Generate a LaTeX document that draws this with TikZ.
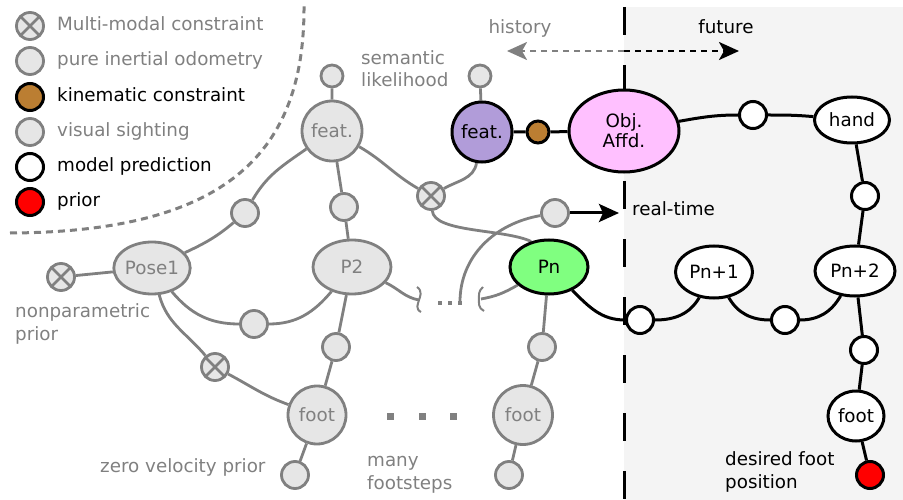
\documentclass[tikz,border=0pt]{standalone}
\usepackage{fontspec}
\setmainfont{DejaVu Sans}
\usetikzlibrary{shapes.geometric,arrows.meta}
\definecolor{lgray}{RGB}{128,128,128}
\definecolor{gfill}{RGB}{230,230,230}
\definecolor{futurebg}{RGB}{244,244,244}
\definecolor{kin}{RGB}{187,126,50}
\definecolor{featpurple}{RGB}{177,156,217}
\definecolor{objpink}{RGB}{255,192,255}
\definecolor{pngreen}{RGB}{128,255,128}
\pgfdeclarelayer{back}
\pgfdeclarelayer{edges}
\pgfsetlayers{back,edges,main}
\tikzset{
  gnode/.style={draw=lgray, fill=gfill, line width=2.8pt, text=lgray, inner sep=0pt},
  bnode/.style={draw=black, line width=3pt, inner sep=0pt},
  gdot/.style={gnode, circle, minimum size=27pt},
  sdot/.style={gnode, circle, minimum size=22pt},
  xdot/.style={gdot, path picture={\draw[lgray, line width=2.8pt]
      (path picture bounding box.north west) -- (path picture bounding box.south east)
      (path picture bounding box.north east) -- (path picture bounding box.south west);}},
  kdot/.style={bnode, circle, fill=kin, minimum size=27pt},
  wdot/.style={bnode, circle, fill=white, minimum size=27pt},
  rdot/.style={bnode, circle, fill=red, minimum size=27pt},
  sqdot/.style={rectangle, fill=lgray, inner sep=0pt, minimum size=7pt},
  tinydot/.style={rectangle, fill=lgray, inner sep=0pt, minimum size=3.5pt},
  lbl/.style={inner sep=0pt},
  gedge/.style={draw=lgray, line width=2.8pt},
  bedge/.style={draw=black, line width=3pt},
  tarrow/.style={line width=2.5pt, dash pattern=on 6pt off 5pt,
      -{Stealth[length=20pt,width=18pt,inset=5pt]}},
}
\begin{document}
\begin{tikzpicture}[x=1pt,y=1pt,font=\fontsize{18.3}{22.5}\selectfont]
\useasboundingbox (0,0) rectangle (903,-500);

% legend
\node[xdot] (lg1) at (30,-26) {};
\node[gdot] (lg2) at (30,-61) {};
\node[kdot] (lg3) at (30,-97) {};
\node[gdot] (lg4) at (30,-132) {};
\node[wdot] (lg5) at (30,-167) {};
\node[rdot] (lg6) at (30,-202) {};
\node[lbl, text=lgray, anchor=base west] (tl1) at (57,-31) {Multi-modal constraint};
\node[lbl, text=lgray, anchor=base west] (tl2) at (57,-66) {pure inertial odometry};
\node[lbl, anchor=base west] (tl3) at (57,-102) {kinematic constraint};
\node[lbl, text=lgray, anchor=base west] (tl4) at (57,-137) {visual sighting};
\node[lbl, anchor=base west] (tl5) at (57,-172) {model prediction};
\node[lbl, anchor=base west] (tl6) at (57,-207) {prior};

% past: estimated poses, features and feet
\node[xdot] (npx) at (61,-277) {};
\node[gnode, ellipse, minimum width=75pt, minimum height=52pt] (pose1) at (152,-268) {Pose1};
\node[gnode, ellipse, minimum width=78pt, minimum height=54pt] (p2) at (352,-267) {P2};
\node[gnode, circle, minimum size=60pt] (featg) at (332,-131) {feat.};
\node[sdot] (s1) at (332,-76) {};
\node[gdot] (c1) at (245,-213) {};
\node[gdot] (c2) at (344,-207) {};
\node[xdot] (x2) at (431,-196) {};
\node[gdot] (c4) at (254,-324) {};
\node[xdot] (x3) at (215,-367) {};
\node[gdot] (c5) at (336,-347) {};
\node[gnode, circle, minimum size=58pt] (foot1) at (317,-415) {foot};
\node[gdot] (c6) at (295,-475) {};
\node[bnode, circle, fill=featpurple, minimum size=60pt] (featp) at (482,-132) {feat.};
\node[sdot] (s2) at (480,-76) {};
\node[kdot, minimum size=22pt] (kin) at (538,-132) {};
\node[gdot] (c3) at (555,-213) {};
\node[bnode, ellipse, fill=pngreen, minimum width=78pt, minimum height=54pt] (pn) at (549,-267) {Pn};
\node[gdot] (c7) at (542,-347) {};
\node[gnode, circle, minimum size=59pt] (foot2) at (523,-415) {foot};
\node[gdot] (c8) at (509,-475) {};
\node[sqdot] (d1) at (390,-416) {};
\node[sqdot] (d2) at (422,-416) {};
\node[sqdot] (d3) at (453,-416) {};
\node[tinydot] (e1) at (440,-303) {};
\node[tinydot] (e2) at (450,-303) {};
\node[tinydot] (e3) at (460,-303) {};
\coordinate (gapend) at (460,-302);
\coordinate (brk1) at (419,-300);
\coordinate (brk2) at (481,-299);
\coordinate (rtip) at (619,-213);

% future: predicted poses
\node[bnode, ellipse, fill=objpink, minimum width=110pt, minimum height=82pt,
      align=center, font=\fontsize{18.3}{20}\selectfont] (obj) at (624,-131) {Obj.\\Affd.};
\node[wdot] (w1) at (753,-115) {};
\node[bnode, ellipse, fill=white, minimum width=75pt, minimum height=46pt] (hand) at (852,-120) {hand};
\node[wdot] (w2) at (865,-196) {};
\node[wdot] (w3) at (640,-320) {};
\node[bnode, ellipse, fill=white, minimum width=77pt, minimum height=52pt] (pn1) at (714,-272) {Pn+1};
\node[wdot] (w4) at (785,-320) {};
\node[bnode, ellipse, fill=white, minimum width=80pt, minimum height=50pt] (pn2) at (855,-271) {Pn+2};
\node[wdot] (w5) at (864,-350) {};
\node[bnode, ellipse, fill=white, minimum width=56pt, minimum height=50pt] (footw) at (856,-416) {foot};
\node[rdot] (red) at (870,-475) {};

% labels (multi-line ones are placed by the baseline of their last line)
\node[lbl, text=lgray, anchor=base] (thist) at (520,-34) {history};
\node[lbl, anchor=base] (tfut) at (726,-34) {future};
\node[lbl, text=lgray, anchor=base west, align=left] (tsem) at (361,-87) {semantic\\likelihood};
\node[lbl, anchor=base west] (trt) at (632,-215) {real-time};
\node[lbl, text=lgray, anchor=base west, align=left] (tnp) at (15,-340) {nonparametric\\prior};
\node[lbl, text=lgray, anchor=base west] (tzv) at (100,-472) {zero velocity prior};
\node[lbl, text=lgray, anchor=base west, align=left] (tmany) at (367,-489) {many\\footsteps};
\node[lbl, anchor=base west, align=left] (tdes) at (725,-488) {desired foot\\position};

\coordinate (now) at (624,-51);
\coordinate (hist) at (507,-51);
\coordinate (fut) at (739,-51);

\begin{pgfonlayer}{back}
  \fill[futurebg] (624,-7) rectangle (903,-500);
  \draw[line width=3pt, dash pattern=on 28pt off 30pt] (624,-7) -- (624,-500);
  \draw[lgray, line width=3pt, dash pattern=on 7pt off 5pt]
    (10,-233) .. controls (230,-232) and (305,-150) .. (304,-5);
  \draw[tarrow, lgray] (now) -- (hist);
  \draw[tarrow, black] (now) -- (fut);
\end{pgfonlayer}

\begin{pgfonlayer}{edges}
  \draw[gedge] (npx) -- (pose1);
  \draw[gedge] (pose1) to[out=25,in=220] (c1);
  \draw[gedge] (c1) to[out=60,in=215] (featg);
  \draw[gedge] (s1) -- (featg) -- (c2) -- (p2);
  \draw[gedge] (featg) to[out=-30,in=150] (x2);
  \draw[gedge] (x2) to[out=30,in=-100] (featp);
  \draw[gedge] (s2) -- (featp);
  \draw[gedge] (x2.-85) .. controls +(-85:22) and +(155:30) .. (pn.125);
  \draw[gedge] (pose1) to[out=-50,in=180] (c4);
  \draw[gedge] (c4) to[out=0,in=-130] (p2);
  \draw[gedge] (pose1) to[out=-75,in=130] (x3);
  \draw[gedge] (x3) to[out=-28,in=160] (foot1);
  \draw[gedge] (p2) -- (c5) -- (foot1) -- (c6);
  \draw[gedge] (pn) -- (c7) -- (foot2) -- (c8);
  \draw[gedge] (p2) to[out=-25,in=170] (brk1);
  \draw[gedge] (pn) to[out=-150,in=10] (brk2);
  \draw[gedge] (c3) to[out=190,in=90] (gapend);
  \begin{scope}[shift={(brk1)}]
    \draw[gedge, line width=2pt] (-2,13) .. controls (4,9) and (1,3) .. (0,0)
      .. controls (-1,-4) and (-4,-9) .. (2,-12);
  \end{scope}
  \begin{scope}[shift={(brk2)}]
    \draw[gedge, line width=2pt] (2,12) .. controls (-3,8) and (-2,3) .. (-2,0)
      .. controls (-2,-4) and (-3,-9) .. (3,-12);
  \end{scope}
  \draw[bedge, -{Stealth[length=20pt,width=18pt,inset=4pt]}] (c3) -- (rtip);
  \draw[bedge] (featp) -- (kin) -- (obj);
  \draw[bedge] (obj) to[out=10,in=180] (w1);
  \draw[bedge] (w1) to[out=0,in=175] (hand);
  \draw[bedge] (hand) -- (w2) -- (pn2);
  \draw[bedge] (pn) to[out=-45,in=180] (w3);
  \draw[bedge] (w3) to[out=0,in=-120] (pn1);
  \draw[bedge] (pn1) to[out=-60,in=180] (w4);
  \draw[bedge] (w4) to[out=0,in=-120] (pn2);
  \draw[bedge] (pn2) -- (w5) -- (footw) -- (red);
\end{pgfonlayer}
\end{tikzpicture}
\end{document}
